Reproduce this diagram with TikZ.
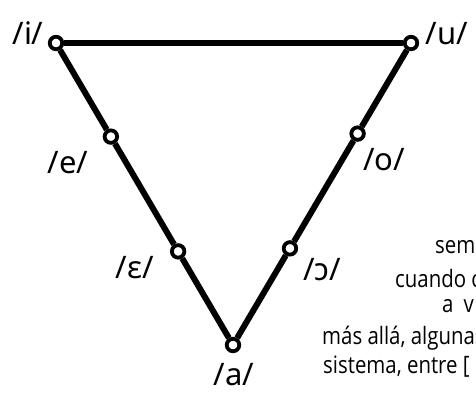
\documentclass[tikz,border=0pt]{standalone}
\usepackage{fontspec}
\usetikzlibrary{calc}
\setmainfont{Noto Sans}
\newfontfamily\labfont{Noto Sans}
\newfontfamily\handfont[FakeStretch=0.85]{Open Sans}
\begin{document}
\begin{tikzpicture}[x=1pt,y=-1pt,
  vtx/.style={circle,draw=black,fill=white,line width=3.8pt,minimum size=12.5pt,inner sep=0pt},
  edge/.style={line width=6pt,black},
  lab/.style={font=\labfont\fontsize{31}{31}\selectfont,inner sep=0pt},
  txt/.style={font=\handfont\fontsize{24}{24}\selectfont,anchor=base west,inner sep=0pt}]
\useasboundingbox (0,0) rectangle (476,392);
\clip (0,0) rectangle (476,392);
% vertices
\coordinate (pi) at (56,43);
\coordinate (pu) at (411,43);
\coordinate (pa) at (233,345);
\node[vtx] (i) at (pi) {};
\node[vtx] (u) at (pu) {};
\node[vtx] (a) at (pa) {};
\node[vtx] (e) at ($(pi)!0.31!(pa)$) {};
\node[vtx] (eps) at ($(pi)!0.69!(pa)$) {};
\node[vtx] (o) at ($(pu)!0.30!(pa)$) {};
\node[vtx] (oo) at ($(pu)!0.68!(pa)$) {};
% edges
\draw[edge] (i) -- (u);
\draw[edge] (i) -- (e);
\draw[edge] (e) -- (eps);
\draw[edge] (eps) -- (a);
\draw[edge] (u) -- (o);
\draw[edge] (o) -- (oo);
\draw[edge] (oo) -- (a);
% labels
\node[lab] (li) at (28,33) {/i/};
\node[lab] (lu) at (447,34) {/u/};
\node[lab] (le) at (68,163) {/e/};
\node[lab] (leps) at (135,268) {/ɛ/};
\node[lab] (lo) at (384,160) {/o/};
\node[lab] (loo) at (322,270) {/ɔ/};
\node[lab] (la) at (234,375) {/a/};
% text
\node[txt] (t1) at (435,253) {semi};
\node[txt] (t2) at (395,287) {cuando c};
\node[txt] (t3) at (442,312) {a\hspace{10pt}v};
\node[txt] (t4) at (322,344) {más allá, algunas};
\node[txt] (t5) at (323,373) {sistema, entre [};
\end{tikzpicture}
\end{document}
